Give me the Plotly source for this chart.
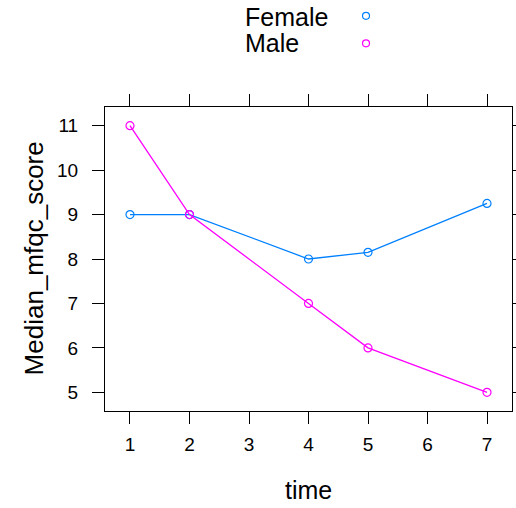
import plotly.graph_objects as go

time = [1, 2, 4, 5, 7]
female = [9, 9, 8, 8.15, 9.25]
male = [11, 9, 7, 6, 5]
x_ticks = [1, 2, 3, 4, 5, 6, 7]
y_ticks = [5, 6, 7, 8, 9, 10, 11]
groups = ["Female", "Male"]
colors = ["#0080ff", "#ff00ff"]

FONT = "Liberation Sans, Arial, sans-serif"

fig = go.Figure()
for name, vals, col in zip(groups, [female, male], colors):
    fig.add_trace(go.Scatter(
        x=time, y=vals, mode="lines+markers", name=name,
        line=dict(color=col, width=1.3),
        marker=dict(symbol="circle-open", size=8, color=col, line=dict(width=1.2, color=col)),
        showlegend=False,
    ))

axis_common = dict(
    showline=True, linecolor="black", linewidth=1, mirror="ticks",
    ticks="outside", ticklen=12, tickwidth=1, tickcolor="black",
    showgrid=False, zeroline=False, automargin=False,
    tickfont=dict(family=FONT, size=19, color="black"),
)
fig.update_xaxes(range=[0.58, 7.42], tickvals=x_ticks, ticklabelstandoff=4, **axis_common)
fig.update_yaxes(range=[4.58, 11.42], tickvals=y_ticks, ticklabelstandoff=10, **axis_common)

annotations = [
    dict(text="time", x=0.5, y=-0.26, xref="paper", yref="paper", showarrow=False,
         xanchor="center", yanchor="middle", font=dict(family=FONT, size=25, color="black")),
    dict(text="Median_mfqc_score", x=-0.1737, y=0.503, xref="paper", yref="paper", showarrow=False,
         textangle=-90, xanchor="center", yanchor="middle", font=dict(family=FONT, size=26, color="black")),
]
shapes = []
leg_y_text = [1.296, 1.212]
leg_y_mark = [1.300, 1.2095]
for name, col, yt, ym in zip(groups, colors, leg_y_text, leg_y_mark):
    annotations.append(dict(text=name, x=0.339, y=yt, xref="paper", yref="paper", showarrow=False,
                            xanchor="left", yanchor="middle",
                            font=dict(family=FONT, size=25, color="black")))
    shapes.append(dict(type="circle", xref="paper", yref="paper", xsizemode="pixel", ysizemode="pixel",
                       xanchor=0.6413, yanchor=ym, x0=-3.5, x1=3.5, y0=-3.5, y1=3.5,
                       line=dict(color=col, width=1.2)))

fig.update_layout(
    width=516, height=508, autosize=False,
    margin=dict(l=105, r=4, t=107, b=97),
    paper_bgcolor="white", plot_bgcolor="white",
    annotations=annotations, shapes=shapes,
    showlegend=False,
)
fig.write_html(
    "out.html",
    config={"displayModeBar": False, "responsive": False},
    post_script="document.body.style.margin='0';document.body.style.overflow='hidden';",
)
